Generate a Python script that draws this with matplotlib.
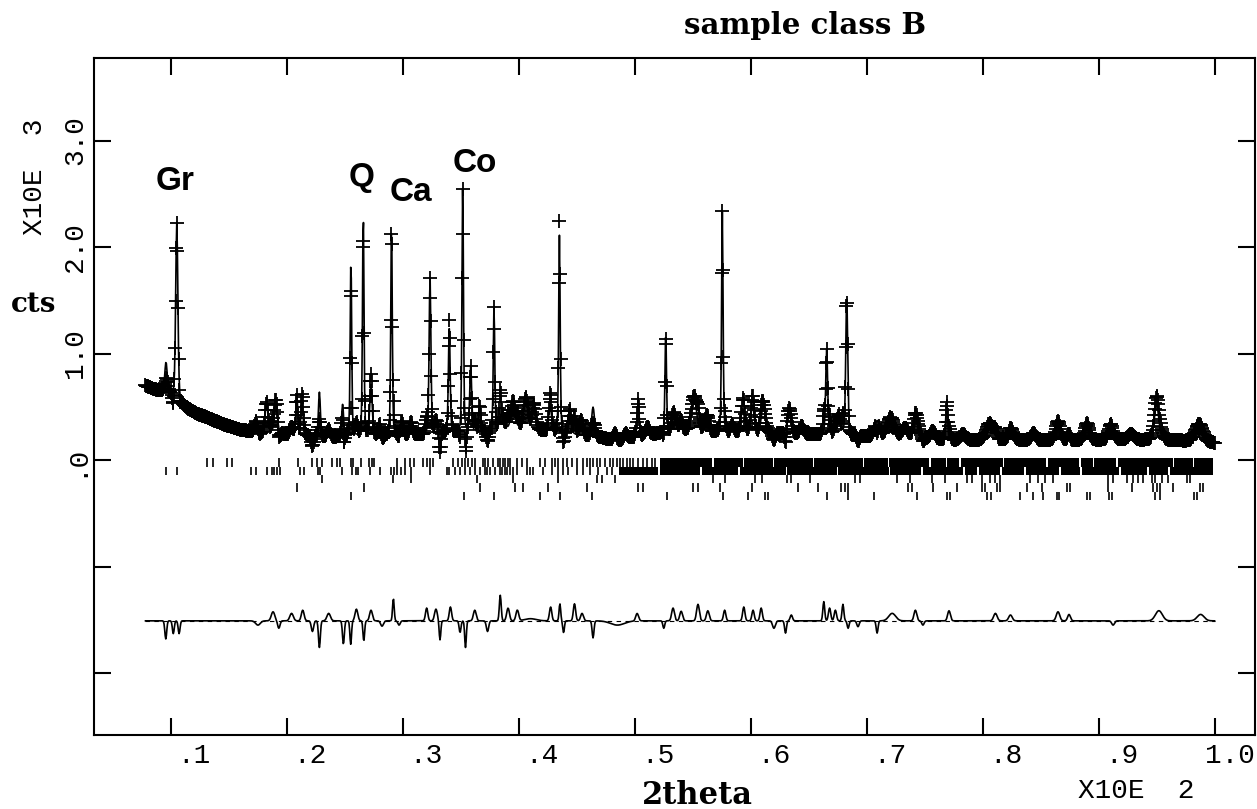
import numpy as np
import matplotlib
matplotlib.use("Agg")
import matplotlib.pyplot as plt
from matplotlib.transforms import ScaledTranslation

# ---------------- data ----------------
# background (counts) under the pattern
bg_x = [7.8, 8.5, 9.2, 10.0, 10.8, 11.5, 12.3, 13.1, 14.5, 16.0, 17.4, 20.3, 23.1, 28.0, 31.0,
        33.2, 36.0, 38.0, 40.0, 42.0, 44.0, 46.0, 48.0, 50.0, 52.0, 54.0, 56.0, 58.0, 60.0,
        62.0, 64.0, 66.0, 68.0, 70.0, 72.0, 75.0, 78.0, 82.0, 86.0, 90.0, 94.0, 97.0, 100.0]
bg_y = [700, 665, 640, 600, 520, 475, 430, 400, 335, 282, 258, 235, 212, 215, 230,
        245, 250, 265, 290, 265, 235, 215, 205, 210, 245, 275, 265, 250, 255,
        250, 240, 235, 235, 215, 215, 195, 180, 185, 180, 185, 185, 180, 160]

# calculated reflections: position (deg 2theta), height above background, fwhm
peak_pos = [9.57, 10.50, 17.35, 18.25, 19.05, 20.85, 21.30, 22.80, 24.80, 25.52, 26.58, 27.25,
            28.0, 29.02, 29.9, 30.7, 32.34, 34.00, 35.16, 35.85, 36.62, 37.86, 38.5, 39.5,
            40.6, 41.3, 42.7, 43.50, 44.4, 45.3, 46.4, 48.3, 49.2, 50.3, 51.1, 52.67, 53.5,
            55.1, 56.1, 57.55, 58.4, 59.3, 60.15, 61.1, 63.3, 64.4, 66.55, 67.6, 68.28, 70.9,
            72.0, 73.3, 74.3, 75.7, 76.9, 78.3, 80.6, 82.5, 84.4, 86.5, 89.0, 91.1, 92.8,
            95.0, 98.6]
peak_height = [290, 1680, 130, 290, 300, 370, 300, 420, 300, 1680, 2120, 480,
               120, 2000, 140, 120, 1480, 980, 2320, 620, 250, 1180, 150, 260,
               280, 230, 240, 1860, 240, 100, 280, 80, 60, 300, 80, 940, 100,
               330, 100, 2070, 80, 220, 250, 270, 230, 80, 800, 180, 1310, 150,
               120, 90, 150, 80, 330, 60, 160, 60, 70, 100, 160, 170, 60,
               340, 120]
peak_fwhm = [0.25, 0.22, 0.3, 0.3, 0.3, 0.2, 0.22, 0.2, 0.2, 0.15, 0.15, 0.25,
             0.3, 0.15, 0.3, 0.3, 0.18, 0.18, 0.15, 0.2, 0.2, 0.15, 0.5, 0.4,
             0.45, 0.35, 0.3, 0.15, 0.3, 0.4, 0.3, 0.4, 0.4, 0.2, 0.4, 0.15, 0.4,
             0.5, 0.4, 0.15, 0.3, 0.35, 0.35, 0.4, 0.35, 0.4, 0.2, 0.3, 0.2, 0.5,
             0.7, 0.6, 0.6, 0.5, 0.2, 0.6, 0.7, 0.6, 0.5, 0.6, 0.45, 0.5, 0.6,
             0.45, 0.8]

diff_pos = [9.55, 10.2, 10.7, 17.5, 18.8, 19.3, 20.4, 21.36, 22.2, 22.8, 23.6, 24.87, 25.5,
            25.99, 26.63, 27.25, 28.2, 29.18, 29.67, 32.05, 32.85, 33.2, 34.1, 34.93, 35.4,
            36.2, 37.3, 38.4, 39.07, 39.87, 41.0, 42.74, 43.54, 43.86, 44.8, 45.45, 46.4,
            48.5, 50.2, 52.5, 53.3, 54.0, 55.45, 56.3, 57.75, 59.4, 60.2, 60.9, 62.0, 63.0,
            63.5, 66.3, 66.8, 67.3, 67.95, 68.4, 69.25, 70.9, 72.2, 74.2, 74.85, 77.1, 81.1,
            82.4, 86.5, 87.45, 91.25, 95.2, 98.8]
diff_amp = [-170, -120, -120, -40, 85, -70, 70, 100, -100, -250, 70, -220, -220,
            110, -190, 100, -50, 210, -40, 120, 110, -180, 130, -110, -250,
            100, -100, 240, 120, 100, 20, 130, 160, -110, 160, 70, -160,
            -40, 70, -70, 120, 90, 155, 95, 100, 130, 100, 120, -70, -115,
            55, 180, 120, 100, 155, -70, -55, -115, 70, 100, -40, 95, 70,
            55, 85, 60, -40, 95, 60]
diff_width = [0.08, 0.08, 0.08, 0.2, 0.15, 0.1, 0.15, 0.12, 0.1, 0.08, 0.15, 0.08, 0.07,
              0.12, 0.07, 0.12, 0.12, 0.07, 0.1, 0.1, 0.12, 0.07, 0.1, 0.08, 0.07,
              0.12, 0.1, 0.08, 0.12, 0.12, 0.5, 0.1, 0.07, 0.07, 0.1, 0.12, 0.08,
              0.6, 0.12, 0.08, 0.12, 0.12, 0.12, 0.12, 0.1, 0.1, 0.1, 0.1, 0.12, 0.08,
              0.1, 0.08, 0.1, 0.1, 0.08, 0.08, 0.1, 0.08, 0.3, 0.12, 0.1, 0.12, 0.15,
              0.15, 0.15, 0.12, 0.12, 0.3, 0.3]
diff_offset = -1510

# reflection markers, five phases (rows)
phase1_ticks = [13.08, 13.6, 14.86, 15.23, 19.3, 20.98, 22.2, 22.57, 23.05, 23.9, 24.3, 24.6,
                25.5, 25.7, 26.36, 27.1, 27.3, 27.5, 29.47, 30.2, 30.6, 30.96, 31.76, 32.05,
                32.34, 32.62, 34.35, 34.78, 35.07, 35.36, 35.64, 35.93, 36.22, 36.94, 37.08,
                37.37, 37.8, 38.23, 38.38, 38.66, 38.81, 39.09, 39.24, 39.81, 40.24, 40.68,
                41.83, 42.26, 42.83, 43.12, 43.41, 43.84, 44.13, 44.56, 44.99, 45.56, 45.85,
                46.14, 46.43, 46.71, 47.0, 47.43, 47.86, 48.15, 48.44, 48.73, 49.01, 49.3,
                49.59, 49.88, 50.31, 50.74, 51.03, 51.46, 51.75]
phase1_dense_start = [52.2, 56.85, 59.45, 62.0, 65.45, 69.8, 71.95, 75.55, 76.95, 78.1,
                      81.85, 85.6, 88.45, 89.6, 91.65, 96.5, 98.25]
phase1_dense_end = [56.7, 59.3, 61.9, 65.35, 69.65, 71.8, 75.4, 76.85, 78.0, 81.75,
                    85.5, 88.35, 89.5, 91.5, 96.4, 98.1, 99.9]
phase2_ticks = [9.57, 10.55, 16.9, 17.3, 18.25, 18.68, 18.9, 19.1, 19.4, 21.13, 21.5, 22.7,
                22.85, 24.72, 25.64, 25.93, 26.16, 27.2, 28.0, 29.0, 29.2, 29.47, 29.8, 30.2,
                30.7, 32.34, 33.78, 34.0, 34.5, 34.93, 35.36, 35.79, 36.22, 36.65, 37.08,
                37.22, 37.51, 37.94, 38.38, 38.52, 38.81, 38.95, 39.24, 39.52, 39.81, 40.68,
                40.96, 41.25, 42.11, 42.83, 43.41, 43.84, 44.27, 44.99, 45.56, 46.14, 46.86,
                47.58, 48.01]
phase2_dense_start = [48.6, 52.15, 55.8, 59.05, 63.15, 67.55, 72.05, 74.85, 78.45, 79.65,
                      81.65, 83.75, 86.75, 88.55, 91.95, 94.35, 96.15]
phase2_dense_end = [52.0, 55.6, 58.9, 63.0, 67.4, 71.9, 74.7, 78.3, 79.5, 81.5,
                    83.6, 86.6, 88.4, 91.8, 94.2, 96.0, 99.9]
phase3_ticks = [23.0, 29.12, 30.7, 36.36, 39.52, 43.4, 46.7, 47.15, 48.3, 56.77, 57.8, 60.37,
                60.95, 63.1, 63.5, 65.1, 69.0, 69.4, 72.6, 73.74, 75.61, 76.76, 78.63, 79.06,
                79.92, 80.64, 81.07, 81.5, 84.09, 84.81, 85.38, 86.1, 90.85, 91.28, 92.43,
                93.0, 93.43, 93.86, 94.58, 94.87, 95.45, 96.02, 97.6, 97.89]
phase4_ticks = [20.84, 26.65, 36.65, 39.67, 40.4, 42.5, 45.85, 50.3, 50.74, 55.05, 55.48,
                57.35, 60.1, 64.1, 65.8, 67.8, 68.1, 68.4, 73.59, 73.88, 75.75, 77.76, 79.92,
                80.2, 81.21, 81.5, 83.8, 85.1, 87.25, 87.54, 90.85, 92.86, 94.73, 95.02,
                95.3, 96.45, 98.75, 99.04]
phase5_ticks = [25.52, 35.27, 37.89, 41.83, 43.55, 46.3, 52.75, 57.64, 59.8, 61.2, 61.5,
                66.55, 68.4, 70.6, 74.31, 76.9, 77.2, 80.4, 80.7, 83.23, 84.38, 85.24, 86.39,
                86.6, 88.98, 89.26, 90.9, 91.2, 94.9, 95.3, 98.2, 98.45]
row_top = [19, -66, -141, -216, -296]
row_bottom = [-66, -141, -216, -296, -376]

peak_labels = ["Gr", "Q", "Ca", "Co"]
peak_label_x = [10.34, 26.47, 30.70, 36.22]
peak_label_y = [2620, 2657, 2516, 2789]

xtick_vals = [10, 20, 30, 40, 50, 60, 70, 80, 90, 100]
xtick_labels = [".1", ".2", ".3", ".4", ".5", ".6", ".7", ".8", ".9", "1.0"]
ytick_vals = [-2000, -1000, 0, 1000, 2000, 3000]
ytick_labels = ["", "", ".0", "1.0", "2.0", "3.0"]

# ---------------- profile ----------------
two_theta = np.arange(7.8, 100.0001, 0.05)
background = np.interp(two_theta, bg_x, bg_y)


def pseudo_voigt(x, x0, h, w, eta=0.35):
    d = (x - x0) / w
    return h * (eta / (1 + 4 * d ** 2) + (1 - eta) * np.exp(-4 * np.log(2) * d ** 2))


calc = background.copy()
for p, h, w in zip(peak_pos, peak_height, peak_fwhm):
    calc += pseudo_voigt(two_theta, p, h, w)

misfit = np.zeros_like(two_theta)
for p, a, s in zip(diff_pos, diff_amp, diff_width):
    misfit += a * np.exp(-0.5 * ((two_theta - p) / s) ** 2)

obs = calc + misfit

# ---------------- figure ----------------
W, H = 1257, 809
fig = plt.figure(figsize=(W / 100, H / 100), dpi=100)
ax = fig.add_axes([94 / W, 1 - 735 / H, (1255 - 94) / W, (735 - 58) / H])
ax.set_xlim(3.36, 103.49)
ax.set_ylim(-2582, 3775)

ax.plot(two_theta, obs, ls="none", marker="+", ms=10.5, mew=1.3, color="black", zorder=2)
ax.plot(two_theta, calc, color="black", lw=1.2, zorder=3)
ax.plot(two_theta, diff_offset + misfit, color="black", lw=1.2, zorder=3)
ax.plot([two_theta[0], two_theta[-1]], [diff_offset, diff_offset], color="black",
        lw=0.8, ls=(0, (4, 4)), zorder=2)

tick_rows = [phase1_ticks, phase2_ticks, phase3_ticks, phase4_ticks, phase5_ticks]
for i, ticks in enumerate(tick_rows):
    ax.vlines(ticks, row_bottom[i], row_top[i], color="black", lw=1.2)
for i, (s_list, e_list) in enumerate([(phase1_dense_start, phase1_dense_end),
                                      (phase2_dense_start, phase2_dense_end)]):
    segs = [(s, e - s) for s, e in zip(s_list, e_list)]
    ax.broken_barh(segs, (row_bottom[i], row_top[i] - row_bottom[i]), color="black", lw=0)

for lab, lx, ly in zip(peak_labels, peak_label_x, peak_label_y):
    ax.text(lx, ly, lab, ha="center", va="center", fontsize=24, fontweight="bold",
            family="Liberation Sans")

# axes styling
for sp in ax.spines.values():
    sp.set_linewidth(1.5)
ax.tick_params(direction="in", length=12.5, width=1.5, top=True, right=True,
               labeltop=False, labelright=False)
ax.set_xticks(xtick_vals)
ax.set_xticklabels(xtick_labels, family="Liberation Mono", fontsize=20, ha="right")
ax.tick_params(axis="x", pad=6)
for lbl in ax.get_xticklabels():
    lbl.set_transform(lbl.get_transform() + ScaledTranslation(0.40, 0, fig.dpi_scale_trans))
ax.set_yticks(ytick_vals)
ax.set_yticklabels(ytick_labels, family="Liberation Mono", fontsize=20, rotation=90,
                   va="center", ha="right")
ax.tick_params(axis="y", pad=4)

fig.text(805 / W, 1 - 25 / H, "sample class B", ha="center", va="center",
         family="DejaVu Serif", fontweight="bold", fontsize=21)
fig.text(697 / W, 1 - 795 / H, "2theta", ha="center", va="center",
         family="DejaVu Serif", fontweight="bold", fontsize=22)
fig.text(34 / W, 1 - 305 / H, "cts", ha="center", va="center",
         family="DejaVu Serif", fontweight="bold", fontsize=20)
fig.text(35 / W, 1 - 177 / H, "X10E  3", ha="center", va="center", rotation=90,
         family="Liberation Mono", fontsize=20)
fig.text(1136 / W, 1 - 791 / H, "X10E  2", ha="center", va="center",
         family="Liberation Mono", fontsize=20)

fig.savefig("out.png", dpi=100, facecolor="white")
